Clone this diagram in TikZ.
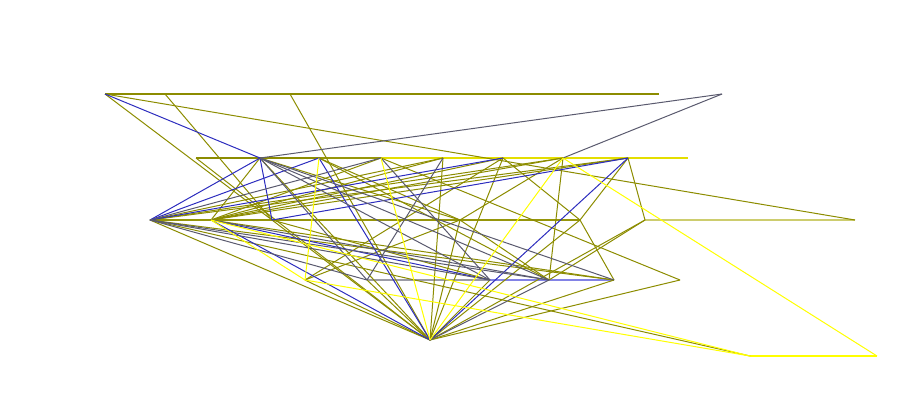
\documentclass[tikz,border=0pt]{standalone}
\definecolor{ol}{RGB}{140,140,0}
\definecolor{olb}{RGB}{150,150,10}
\definecolor{oll}{RGB}{205,205,110}
\definecolor{yl}{RGB}{255,255,0}
\definecolor{yd}{RGB}{228,222,0}
\definecolor{bl}{RGB}{45,45,190}
\definecolor{bll}{RGB}{130,130,230}
\definecolor{gr}{RGB}{90,90,110}
\definecolor{grl}{RGB}{155,155,165}
\tikzset{edge/.style={line width=1pt},
  hedge/.style={line width=1.9pt}}
\begin{document}
\begin{tikzpicture}[x=1pt,y=-1pt]
\useasboundingbox (0,0) rectangle (920,400);
% layer 0
\coordinate (A0) at (105,94);
\coordinate (A1) at (165,94);
\coordinate (A2) at (290,94);
\coordinate (A3) at (659,94);
\coordinate (A4) at (722,94);
% layer 1
\coordinate (B0) at (196,158);
\coordinate (B1) at (260,158);
\coordinate (B2) at (319,158);
\coordinate (B3) at (381,158);
\coordinate (B4) at (443,158);
\coordinate (B5) at (503,158);
\coordinate (B6) at (563,158);
\coordinate (B7) at (628,158);
\coordinate (B8) at (688,158);
% layer 2
\coordinate (C0) at (150,220);
\coordinate (C1) at (211,220);
\coordinate (C2) at (272,220);
\coordinate (C3) at (460,220);
\coordinate (C4) at (580,220);
\coordinate (C5) at (645,220);
\coordinate (C6) at (855,220);
% layer 3
\coordinate (D0) at (305,280);
\coordinate (D1) at (367,280);
\coordinate (D2) at (490,280);
\coordinate (D3) at (549,280);
\coordinate (D4) at (614,280);
\coordinate (D5) at (680,280);
% layer 4,5
\coordinate (E0) at (430,340);
\coordinate (F0) at (750,356);
\coordinate (F1) at (877,356);

% horizontal edges
\draw[hedge,ol] (A0) -- (A3);
\draw[hedge,ol] (B0) -- (B2);
\draw[hedge,olb] (B2) -- (B3);
\draw[hedge,yd] (B3) -- (B8);
\draw[hedge,olb] (C0) -- (C4);
\draw[hedge,oll] (C5) -- (C6);
\draw[hedge,grl] (D1) -- (D2);
\draw[hedge,bll] (D2) -- (D4);
\draw[hedge,yl] (F0) -- (F1);

% olive edges
\foreach \a/\b in {A0/C2,A0/C6,A1/C2,A2/E0,B0/E0,B1/C1,B1/E0,B1/C3,
  B2/D3,B2/C3,B3/D5,B3/C1,B4/E0,B4/C0,B4/C1,B5/C4,B5/C1,B5/D0,B5/E0,
  B6/C0,B6/C1,B6/D3,B6/C3,B7/C5,B7/C4,B7/C0,B7/C1,
  C0/E0,C0/F0,C0/D4,C1/D4,C2/E0,C2/D2,C3/E0,C3/D0,C3/D3,
  C4/D4,C4/E0,C5/D3,C5/E0,D0/E0,D1/E0,D2/E0,D4/E0,D5/E0}
  \draw[edge,ol] (\a) -- (\b);
% blue edges
\foreach \a/\b in {A0/B1,B1/C0,B1/C2,B2/C0,B2/E0,B5/C0,B7/E0,
  B7/C2,C1/D2,C1/E0}
  \draw[edge,bl] (\a) -- (\b);
% gray edges
\foreach \a/\b in {A4/B1,A4/B6,B1/D2,B1/D3,B1/D1,B1/D4,B3/C0,B3/D2,
  B4/D1,C0/D2,C0/D3,C0/D1,C1/D3,D3/E0}
  \draw[edge,gr] (\a) -- (\b);
% yellow edges
\foreach \a/\b in {B2/D0,B3/E0,B6/F1,B6/E0,C1/D0,C1/F0,D0/F0}
  \draw[edge,yl] (\a) -- (\b);
\end{tikzpicture}
\end{document}
